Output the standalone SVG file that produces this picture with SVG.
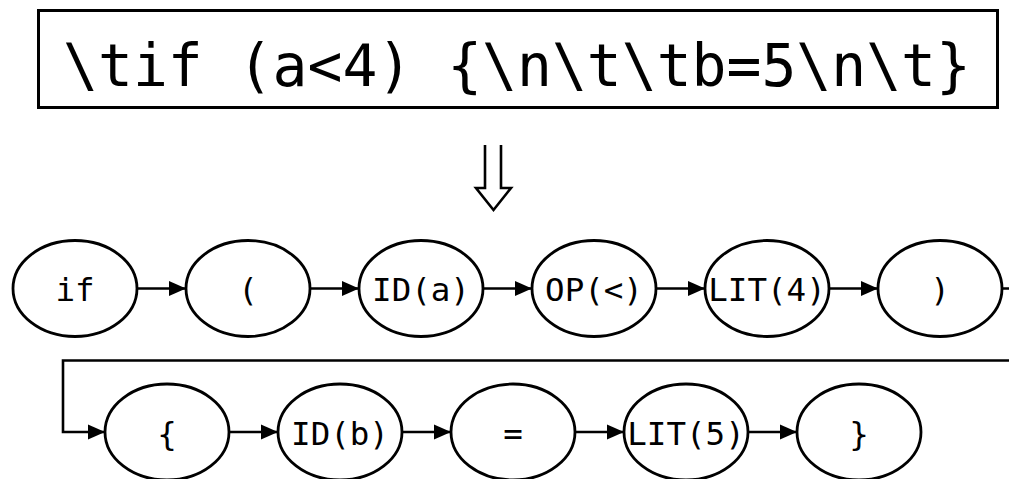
<svg xmlns="http://www.w3.org/2000/svg" width="1009" height="479" viewBox="0 0 1009 479">
  <style>
    .tok { fill: #fff; stroke: #000; stroke-width: 2.8; }
    .lbl { font-family: "DejaVu Sans Mono", "Liberation Mono", monospace; font-size: 32.5px; text-anchor: middle; fill: #000; }
    .edge { fill: none; stroke: #000; stroke-width: 2.6; marker-end: url(#head); }
  </style>
  <defs>
    <marker id="head" markerUnits="userSpaceOnUse" markerWidth="18" markerHeight="16" refX="17" refY="8" orient="auto">
      <path d="M0,0.5 L17,8 L0,15.5 Z" fill="#000"/>
    </marker>
  </defs>

  <rect width="1009" height="479" fill="#fff"/>

  <!-- source string -->
  <g id="source">
    <rect x="38.5" y="10.5" width="959" height="97" fill="#fff" stroke="#000" stroke-width="3"/>
    <text x="517" y="86" font-family="'DejaVu Sans Mono', 'Liberation Mono', monospace" font-size="58" text-anchor="middle">\tif (a&lt;4) {\n\t\tb=5\n\t}</text>
  </g>

  <!-- hollow down arrow -->
  <g id="lex-arrow">
    <path d="M485,145 V188 H476 L493.5,210 L511,188 H501 V145" fill="#fff" stroke="#000" stroke-width="2.6" stroke-linejoin="miter"/>
  </g>

  <!-- connectors -->
  <g id="connectors">
    <path class="edge" d="M137,288.5 H186"/>
    <path class="edge" d="M310,288.5 H359"/>
    <path class="edge" d="M483,288.5 H532"/>
    <path class="edge" d="M656,288.5 H705"/>
    <path class="edge" d="M829,288.5 H878"/>
    <path class="edge" d="M1002,288.5 H1014 V360.5 H63 V432 H105"/>
    <path class="edge" d="M229,432 H278"/>
    <path class="edge" d="M402,432 H451"/>
    <path class="edge" d="M575,432 H624"/>
    <path class="edge" d="M748,432 H797"/>
  </g>

  <!-- first row of tokens -->
  <g id="tok-if"><ellipse class="tok" cx="75" cy="288.5" rx="62" ry="48"/><text class="lbl" x="75" y="301">if</text></g>
  <g id="tok-lparen"><ellipse class="tok" cx="248" cy="288.5" rx="62" ry="48"/><text class="lbl" x="248" y="301">(</text></g>
  <g id="tok-id-a"><ellipse class="tok" cx="421" cy="288.5" rx="62" ry="48"/><text class="lbl" x="421" y="301">ID(a)</text></g>
  <g id="tok-op-lt"><ellipse class="tok" cx="594" cy="288.5" rx="62" ry="48"/><text class="lbl" x="594" y="301">OP(&lt;)</text></g>
  <g id="tok-lit-4"><ellipse class="tok" cx="767" cy="288.5" rx="62" ry="48"/><text class="lbl" x="767" y="301">LIT(4)</text></g>
  <g id="tok-rparen"><ellipse class="tok" cx="940" cy="288.5" rx="62" ry="48"/><text class="lbl" x="940" y="301">)</text></g>

  <!-- second row of tokens -->
  <g id="tok-lbrace"><ellipse class="tok" cx="167" cy="432" rx="62" ry="48"/><text class="lbl" x="167" y="444.5">{</text></g>
  <g id="tok-id-b"><ellipse class="tok" cx="340" cy="432" rx="62" ry="48"/><text class="lbl" x="340" y="444.5">ID(b)</text></g>
  <g id="tok-assign"><ellipse class="tok" cx="513" cy="432" rx="62" ry="48"/><text class="lbl" x="513" y="444.5">=</text></g>
  <g id="tok-lit-5"><ellipse class="tok" cx="686" cy="432" rx="62" ry="48"/><text class="lbl" x="686" y="444.5">LIT(5)</text></g>
  <g id="tok-rbrace"><ellipse class="tok" cx="859" cy="432" rx="62" ry="48"/><text class="lbl" x="859" y="444.5">}</text></g>
</svg>
